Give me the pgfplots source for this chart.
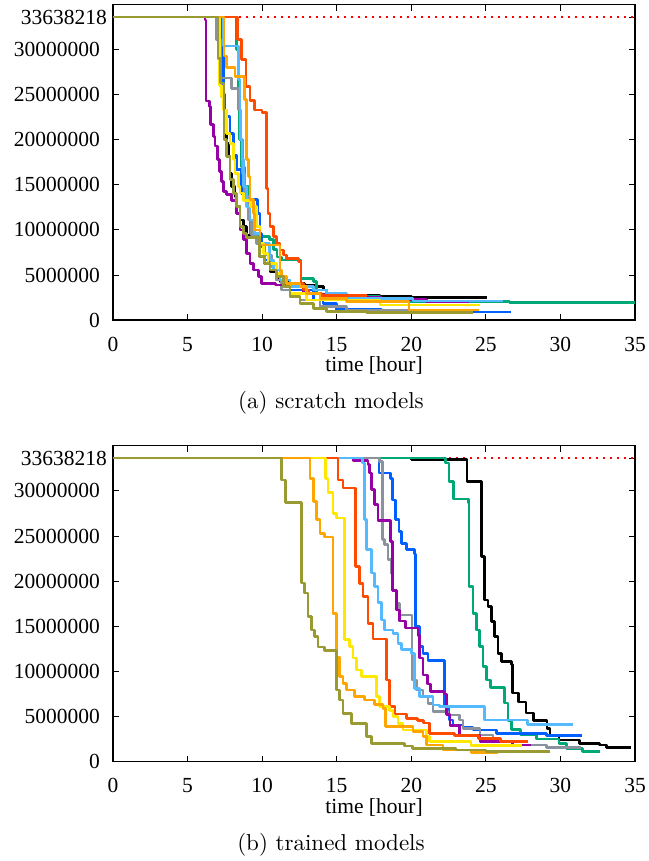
\documentclass[border=0pt]{standalone}
\usepackage{pgfplots}
\pgfplotsset{compat=1.18}
\usepackage{fontspec}
\usepackage{graphicx}
\newfontfamily\tms{Liberation Serif}
\newcommand\tfont{\tms\fontsize{21.5}{22}\selectfont}
\definecolor{cGreen}{RGB}{0,168,120}
\definecolor{cBlue}{RGB}{0,95,255}
\definecolor{cGray}{RGB}{138,146,158}
\definecolor{cPurple}{RGB}{150,0,165}
\definecolor{cLBlue}{RGB}{85,185,255}
\definecolor{cORed}{RGB}{255,75,0}
\definecolor{cYellow}{RGB}{255,232,0}
\definecolor{cOrange}{RGB}{255,165,0}
\definecolor{cOlive}{RGB}{154,154,50}
\pgfplotsset{
  myaxis/.style={
    width=522pt, height=315.3pt, scale only axis,
    xmin=0, xmax=35, ymin=0, ymax=35e6,
    xtick={0,5,10,15,20,25,30,35},
    xticklabels={{\tfont 0},{\tfont 5},{\tfont 10},{\tfont 15},{\tfont 20},{\tfont 25},{\tfont 30},{\tfont 35}},
    ytick={0,5e6,10e6,15e6,20e6,25e6,30e6},
    yticklabels={{\tfont 0},{\tfont 5000000},{\tfont 10000000},{\tfont 15000000},{\tfont 20000000},{\tfont 25000000},{\tfont 30000000}},
    extra y ticks={33638218}, extra y tick labels={{\tfont 33638218}},
    extra y tick style={yticklabel style={xshift=7pt}},
    scaled y ticks=false, scaled x ticks=false,
    tick align=inside, major tick length=6pt,
    tick style={black, line width=0.9pt},
    axis line style={black, line width=1.2pt},
    /pgf/number format/assume math mode=true,
    xticklabel style={font=\tfont, anchor=base, inner sep=0pt, yshift=-31pt},
    yticklabel style={font=\tfont, anchor=east, inner sep=0pt, xshift=-13pt},
    xlabel={time [hour]},
    xlabel style={at={(axis description cs:0.5,0)}, anchor=center, yshift=-45.5pt, inner sep=0pt, font=\tfont},
    every axis plot/.append style={const plot, line width=2.7pt, line join=round},
  },
  reddot/.style={red, line width=2.4pt, dash pattern=on 2.4pt off 4.6pt, sharp plot},
}
\begin{document}
\begin{tikzpicture}
\useasboundingbox (0pt,0pt) rectangle (648pt,-861pt);
% ---------------- (a) scratch models ----------------
\begin{axis}[myaxis, at={(113pt,-320pt)}, anchor=south west]
\addplot[reddot] coordinates {(0,33638218) (35,33638218)};
% black
\addplot[black] coordinates {(0,33638218) (7.15,27.0e6) (7.28,24.8e6) (7.39,23.7e6) (7.5,21.5e6) (7.61,19.6e6) (7.73,18.15e6) (7.84,16.3e6) (7.95,14.8e6) (8.17,13.7e6) (8.28,12.6e6) (8.51,11.1e6) (8.73,10.37e6) (8.95,9.4e6) (9.8,7.04e6) (10.18,6.3e6) (10.52,5.37e6) (10.96,4.63e6) (11.19,4.26e6) (11.86,4.08e6) (12.86,3.89e6) (13.64,3.7e6) (14.13,3.34e6) (14.31,2.89e6) (14.98,2.74e6) (17.9,2.6e6) (20,2.5e6) (25.1,2.5e6)};
% green
\addplot[cGreen] coordinates {(0,33638218) (8.28,30.0e6) (8.4,24.0e6) (8.5,20.0e6) (8.62,17.0e6) (8.84,14.8e6) (9.07,11.85e6) (9.18,9.63e6) (9.5,9.26e6) (10.5,8.9e6) (10.75,7.8e6) (11.0,7.0e6) (11.3,6.67e6) (12.6,4.6e6) (13.42,4.26e6) (13.64,2.96e6) (13.87,2.6e6) (17.9,2.04e6) (26.6,1.93e6) (35,1.93e6)};
% blue
\addplot[cBlue] coordinates {(0,33638218) (7.3,30.5e6) (7.4,25.0e6) (7.5,23.3e6) (7.61,22.6e6) (7.84,20.7e6) (8.06,18.3e6) (8.28,16.67e6) (8.62,14.08e6) (8.84,13.34e6) (9.7,11.85e6) (9.85,9.63e6) (9.96,8.15e6) (10.18,6.67e6) (10.52,5.56e6) (10.96,4.45e6) (11.86,3.34e6) (13.42,2.22e6) (14.09,1.85e6) (14.98,1.19e6) (18,0.9e6) (26.7,0.9e6)};
% gray
\addplot[cGray] coordinates {(0,33638218) (6.9,31.1e6) (7.23,26.85e6) (7.95,25.7e6) (8.4,23.3e6) (8.55,20.0e6) (8.69,16.3e6) (8.84,13.7e6) (9.07,11.1e6) (9.29,9.45e6) (9.62,8.52e6) (10.18,7.22e6) (10.63,5.93e6) (10.96,4.45e6) (11.3,3.34e6) (11.86,2.6e6) (12.53,2.22e6) (13.87,1.48e6) (15.65,1.11e6) (21.4,1.11e6)};
% purple
\addplot[cPurple] coordinates {(0,33638218) (6.16,33.3e6) (6.23,24.3e6) (6.45,23.7e6) (6.56,21.7e6) (6.72,20.4e6) (6.83,19.3e6) (6.99,17.8e6) (7.12,16.5e6) (7.28,15.4e6) (7.39,14.3e6) (7.61,13.9e6) (7.95,13.3e6) (8.28,11.85e6) (8.51,10.0e6) (8.73,8.9e6) (8.95,7.4e6) (9.18,6.3e6) (9.4,5.56e6) (9.74,4.8e6) (9.96,4.08e6) (10.9,3.9e6) (12.75,2.9e6) (15.5,2.5e6) (18,2.25e6) (21,2.0e6) (23.9,2.0e6)};
% light blue
\addplot[cLBlue] coordinates {(0,33638218) (7.4,30.4e6) (8.42,26.67e6) (8.51,23.3e6) (8.57,20.0e6) (8.64,17.8e6) (8.73,14.8e6) (8.95,12.6e6) (9.18,11.1e6) (9.51,9.63e6) (9.85,8.52e6) (10.47,6.67e6) (10.74,5.56e6) (11.19,4.45e6) (11.86,3.71e6) (13.42,3.34e6) (14.31,2.96e6) (15.65,2.41e6) (20.12,2.1e6) (26.15,2.1e6)};
% orange-red
\addplot[cORed] coordinates {(0,33638218) (8.33,31.1e6) (8.62,28.9e6) (8.91,25.9e6) (9.18,24.4e6) (9.51,23.3e6) (10.0,23.0e6) (10.29,14.6e6) (10.4,11.85e6) (10.52,10.4e6) (10.74,9.26e6) (10.96,8.5e6) (11.19,7.78e6) (11.41,7.2e6) (11.63,6.85e6) (12.45,6.5e6) (12.6,4.08e6) (12.75,3.34e6) (13.1,2.96e6) (14,2.7e6) (17,2.7e6)};
% yellow
\addplot[cYellow] coordinates {(0,33638218) (7.12,26.0e6) (7.28,24.8e6) (7.39,23.3e6) (7.61,20.7e6) (7.84,19.6e6) (8.06,17.8e6) (8.17,16.3e6) (8.4,14.8e6) (8.51,14.1e6) (8.73,13.3e6) (9.24,12.6e6) (9.62,10.37e6) (9.85,8.52e6) (10.07,7.41e6) (10.4,6.3e6) (10.96,5.19e6) (11.19,4.82e6) (11.63,4.08e6) (11.86,2.96e6) (12.97,2.22e6) (17.9,1.67e6) (24.6,1.67e6)};
% orange
\addplot[cOrange] coordinates {(0,33638218) (7.45,29.3e6) (7.6,28.0e6) (8.17,27.0e6) (8.84,24.45e6) (8.95,17.8e6) (9.07,15.93e6) (9.18,13.34e6) (9.4,11.85e6) (9.51,10.0e6) (9.85,8.34e6) (11.19,5.56e6) (11.3,4.82e6) (11.63,4.08e6) (12.53,3.71e6) (12.97,2.96e6) (13.87,2.41e6) (15.65,2.04e6) (19.85,1.11e6) (24.54,1.11e6)};
% olive
\addplot[cOlive] coordinates {(0,33638218) (7.05,29.0e6) (7.2,26.3e6) (7.44,20.0e6) (7.61,18.15e6) (7.84,15.56e6) (8.06,14.08e6) (8.28,12.6e6) (8.51,10.37e6) (8.73,9.63e6) (8.95,9.19e6) (9.8,7.04e6) (10.18,6.3e6) (10.52,5.56e6) (10.96,4.82e6) (11.41,3.71e6) (11.86,2.6e6) (12.53,1.85e6) (13.42,1.3e6) (14.31,0.93e6) (17,0.8e6) (24.14,0.8e6)};
\end{axis}
\node at (331pt,-403pt) {\scalebox{2.3}{(a) scratch models}};
% ---------------- (b) trained models ----------------
\begin{axis}[myaxis, height=316pt, at={(113pt,-761.7pt)}, anchor=south west]
\addplot[reddot] coordinates {(0,33638218) (35,33638218)};
% black
\addplot[black] coordinates {(0,33638218) (20,33.5e6) (23.74,31.05e6) (24.7,22.73e6) (24.92,17.92e6) (25.14,17.18e6) (25.37,15.52e6) (25.59,13.86e6) (25.81,12.01e6) (26.04,11.09e6) (26.7,10.8e6) (26.8,7.6e6) (27.2,6.6e6) (27.7,5.4e6) (28.2,4.6e6) (29.1,3.7e6) (29.3,2.9e6) (29.9,2.4e6) (31.3,2.04e6) (32.6,1.85e6) (33.1,1.55e6) (34.75,1.55e6)};
% green
\addplot[cGreen] coordinates {(0,33638218) (22.3,33.08e6) (22.53,31.05e6) (22.84,29.09e6) (23.83,28.64e6) (23.87,19.4e6) (24.14,16.45e6) (24.36,14.6e6) (24.58,12.75e6) (24.81,10.53e6) (25.03,9.05e6) (25.3,8.24e6) (26.26,6.5e6) (26.48,4.6e6) (26.7,3.6e6) (27.3,3.0e6) (28.4,2.5e6) (29.9,2.0e6) (30.4,1.5e6) (31.5,1.1e6) (32.67,1.1e6)};
% blue
\addplot[cBlue] coordinates {(0,33638218) (17.84,31.97e6) (18.6,31.4e6) (18.73,29.0e6) (18.96,26.8e6) (19.18,25.5e6) (19.34,24.2e6) (19.67,23.5e6) (20.23,23.0e6) (20.3,14.97e6) (20.57,12.75e6) (20.79,12.0e6) (21.12,11.2e6) (22.24,6.1e6) (22.53,4.62e6) (22.8,4.06e6) (23.47,3.8e6) (24.14,3.5e6) (25.7,3.14e6) (29.05,2.88e6) (31.44,2.88e6)};
% gray
\addplot[cGray] coordinates {(0,33638218) (17.88,33.26e6) (18.06,24.58e6) (18.22,24.02e6) (18.44,22.36e6) (18.67,20.88e6) (18.78,19.0e6) (19.0,17.56e6) (19.23,16.26e6) (20.05,9.05e6) (20.34,7.95e6) (20.79,7.2e6) (21.12,6.47e6) (21.46,5.54e6) (22.46,5.17e6) (23.24,4.62e6) (23.47,3.7e6) (24.6,2.95e6) (25.48,2.2e6) (26.8,1.85e6) (29.05,1.59e6) (31.4,1.59e6)};
% purple
\addplot[cPurple] coordinates {(0,33638218) (16.1,33.37e6) (17.1,32.9e6) (17.22,31.97e6) (17.33,30.12e6) (17.55,28.46e6) (17.77,26.7e6) (18.62,24.4e6) (18.73,19.0e6) (19.0,16.8e6) (19.23,15.6e6) (19.6,14.8e6) (20.45,14.0e6) (20.57,11.5e6) (20.79,9.6e6) (21.1,8.6e6) (21.3,7.8e6) (22.2,7.5e6) (22.35,5.2e6) (22.6,4.0e6) (23.25,2.95e6) (24.6,2.2e6) (26.8,1.85e6) (28.05,1.85e6)};
% light blue
\addplot[cLBlue] coordinates {(0,33638218) (16.72,33.08e6) (16.88,26.8e6) (17.0,23.5e6) (17.33,20.9e6) (17.55,19.4e6) (17.77,17.6e6) (18.0,15.7e6) (18.22,14.6e6) (18.78,14.23e6) (19.11,13.1e6) (19.34,12.4e6) (20.0,12.0e6) (20.23,8.13e6) (20.57,7.2e6) (21.46,6.28e6) (21.9,6.1e6) (24.92,4.62e6) (27.8,4.1e6) (30.84,4.1e6)};
% orange-red
\addplot[cORed] coordinates {(0,33638218) (15.09,31.2e6) (15.43,30.3e6) (16.28,21.6e6) (16.55,19.77e6) (16.77,18.3e6) (17.1,15.3e6) (17.44,13.6e6) (18.33,9.05e6) (18.56,6.1e6) (18.9,5.3e6) (19.7,4.8e6) (20.4,4.6e6) (20.8,4.3e6) (21.2,3.15e6) (22.9,2.9e6) (24.5,2.6e6) (26,2.2e6) (27.8,2.2e6)};
% yellow
\addplot[cYellow] coordinates {(0,33638218) (14.27,31.4e6) (14.42,29.8e6) (14.76,27.5e6) (14.98,27.0e6) (15.54,13.5e6) (15.87,12.76e6) (16.1,11.5e6) (16.32,10.17e6) (16.65,9.43e6) (17.66,7.2e6) (17.88,6.1e6) (18.55,5.7e6) (18.78,5.0e6) (19.11,4.25e6) (19.45,3.5e6) (21.0,2.77e6) (21.24,2.2e6) (24,1.8e6) (27.4,1.8e6)};
% orange
\addplot[cOrange] coordinates {(0,33638218) (13.2,31.4e6) (13.42,28.8e6) (13.64,26.8e6) (13.87,25.3e6) (14.2,24.9e6) (14.76,16.4e6) (14.98,11.6e6) (15.2,9.4e6) (15.43,8.7e6) (15.65,7.95e6) (16.21,7.2e6) (16.88,6.84e6) (17.55,6.3e6) (18.11,5.9e6) (18.26,3.9e6) (20.12,3.33e6) (20.79,2.77e6) (21.01,1.85e6) (22.13,1.29e6) (24,1.0e6) (25.8,1.0e6)};
% olive
\addplot[cOlive] coordinates {(0,33638218) (11.3,31.2e6) (11.56,28.7e6) (12.64,19.8e6) (12.86,18.7e6) (13.08,16.1e6) (13.31,14.6e6) (13.53,13.9e6) (13.75,12.7e6) (14.2,12.3e6) (14.98,7.95e6) (15.2,6.84e6) (15.43,5.36e6) (15.99,4.25e6) (16.99,2.78e6) (17.33,2.04e6) (19.56,1.74e6) (20.1,1.48e6) (23,1.3e6) (25,1.15e6) (29.27,1.15e6)};
\end{axis}
\node at (331pt,-845pt) {\scalebox{2.3}{(b) trained models}};
\end{tikzpicture}
\end{document}
